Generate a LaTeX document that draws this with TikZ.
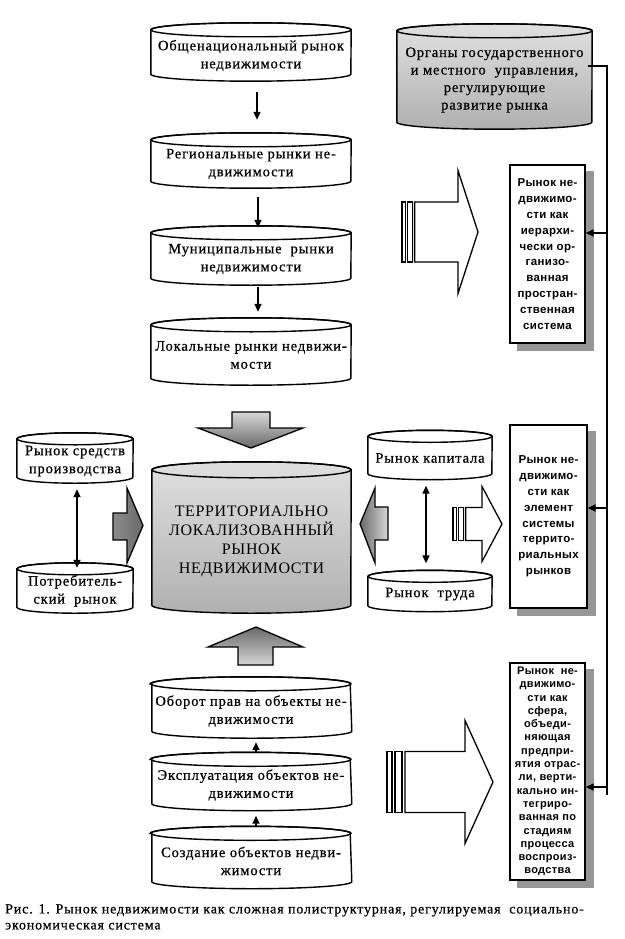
\documentclass[tikz,border=0pt]{standalone}
\usepackage{fontspec}
\setmainfont{Liberation Serif}[LetterSpace=6, FakeBold=0.6]
\newfontfamily\bigfont{Liberation Serif}[LetterSpace=4]
\newfontfamily\boxfont{Liberation Sans}[LetterSpace=3]
\usetikzlibrary{arrows.meta, backgrounds}
\definecolor{cyltop}{RGB}{224, 224, 224}
\definecolor{cylbot}{RGB}{176, 176, 176}
\definecolor{arrdark}{RGB}{105, 105, 105}
\definecolor{arrmid}{RGB}{140, 140, 140}
\definecolor{arrlight}{RGB}{215, 215, 215}
\definecolor{shadowgray}{RGB}{150, 150, 150}
% cylinder round a text node: name, x radius, y radius, fill
\newcommand{\drawcyl}[4]{
    \path[draw, line width=1.4pt, #4] ([yshift=#3pt]#1.north west) -- (#1.south west)
        arc[start angle=180, end angle=360, x radius=#2pt, y radius=#3pt]
        -- ([yshift=#3pt]#1.north east)
        arc[start angle=0, end angle=180, x radius=#2pt, y radius=#3pt] -- cycle;
    \draw[line width=1.4pt] ([yshift=#3pt]#1.north) ellipse[x radius=#2pt, y radius=#3pt];
}
% striped arrow: start x, head base x, tip x, centre y, half shaft, half head, stripe unit
\newcommand{\stripearrow}[7]{
    \draw[line width=1.3pt, fill=white] (#1, #4-#5) rectangle (#1+#7, #4+#5);
    \draw[line width=1.3pt, fill=white] (#1+1.6*#7, #4-#5) rectangle (#1+3*#7, #4+#5);
    \draw[line width=1.3pt, fill=white] (#1+3.6*#7, #4-#5) -- (#2, #4-#5) -- (#2, #4-#6)
        -- (#3, #4) -- (#2, #4+#6) -- (#2, #4+#5) -- (#1+3.6*#7, #4+#5) -- cycle;
}
\begin{document}
\begin{tikzpicture}[x=1pt, y=-1pt]
\tikzset{cylnode/.style={inner sep=0pt, align=center, font=\fontsize{14.5}{18}\selectfont},
    infobox/.style={draw, fill=white, line width=1.4pt, inner sep=0pt, align=center,
        font=\boxfont\bfseries\fontsize{11.5}{15.8}\selectfont},
    conn/.style={line width=1.5pt, -{Triangle[length=8pt, width=7pt]}},
    twoway/.style={line width=1.5pt, {Triangle[length=8pt, width=7pt]}-{Triangle[length=8pt, width=7pt]}},
    bus/.style={line width=1.5pt}}
\useasboundingbox (0, 0) rectangle (624, 939);

% market levels
\node[cylnode, minimum width=200, minimum height=37] (national) at (251, 55.5) {Общенациональный рынок\\недвижимости};
\node[cylnode, minimum width=200, minimum height=34] (regional) at (251, 164) {Региональные рынки не-\\движимости};
\node[cylnode, minimum width=200, minimum height=38] (municipal) at (251, 259) {Муниципальные~\ рынки\\недвижимости};
\node[cylnode, minimum width=200, minimum height=46] (local) at (251, 355) {Локальные рынки недвижи-\\мости};

\node[cylnode, minimum width=195, minimum height=84, font=\fontsize{14.5}{17.5}\selectfont] (gov) at (494.5, 80) {Органы государственного\\и местного~\ управления,\\регулирующие\\развитие рынка};

\node[cylnode, minimum width=199, minimum height=127, font=\bigfont\fontsize{16}{19}\selectfont] (main) at (251.5, 541.5) {ТЕРРИТОРИАЛЬНО\\ЛОКАЛИЗОВАННЫЙ\\РЫНОК\\НЕДВИЖИМОСТИ};

\node[cylnode, minimum width=116, minimum height=32] (means) at (75, 461) {Рынок средств\\производства};
\node[cylnode, minimum width=116, minimum height=32] (consumer) at (75, 591) {Потребитель-\\ский~\ рынок};
\node[cylnode, minimum width=124, minimum height=31] (capital) at (430, 458) {Рынок капитала};
\node[cylnode, minimum width=124, minimum height=23] (labour) at (430, 594) {Рынок~\ труда};

\node[cylnode, minimum width=198, minimum height=40] (rights) at (251, 711) {Оборот прав на объекты не-\\движимости};
\node[cylnode, minimum width=198, minimum height=37] (operation) at (251, 785) {Эксплуатация объектов не-\\движимости};
\node[cylnode, minimum width=198, minimum height=41] (creation) at (251, 861) {Создание объектов недви-\\жимости};

% right column
\node[infobox, minimum width=75, minimum height=178] (hier) at (547.5, 254) {Рынок не-\\движимо-\\сти как\\иерархи-\\чески ор-\\ганизо-\\ванная\\простран-\\ственная\\система};
\node[infobox, minimum width=77, minimum height=183] (terr) at (548.5, 516.5) {Рынок не-\\движимо-\\сти как\\элемент\\системы\\террито-\\риальных\\рынков};
\node[infobox, minimum width=75, minimum height=217, font=\boxfont\bfseries\fontsize{11}{13.3}\selectfont] (sphere) at (547.5, 771.5) {Рынок~\ не-\\движимо-\\сти как\\сфера,\\объеди-\\няющая\\предпри-\\ятия отрас-\\ли, верти-\\кально ин-\\тегриро-\\ванная по\\стадиям\\процесса\\воспроиз-\\водства};

\begin{scope}[on background layer]
    \foreach \n in {national, regional, municipal, local, rights, operation, creation} {
        \drawcyl{\n}{100}{7}{fill=white}
    }
    \drawcyl{means}{58}{6}{fill=white}
    \drawcyl{consumer}{58}{6}{fill=white}
    \drawcyl{capital}{62}{6}{fill=white}
    \drawcyl{labour}{62}{6}{fill=white}
    \drawcyl{gov}{97.5}{7}{top color=cyltop, bottom color=cylbot}
    \drawcyl{main}{99.5}{8}{top color=cyltop, bottom color=cylbot}
    \foreach \n in {hier, terr, sphere} {
        \fill[shadowgray] ([shift={(8pt,-7pt)}]\n.north west) rectangle ([shift={(8pt,-7pt)}]\n.south east);
    }
\end{scope}

\draw[conn] ([xshift=6pt, yshift=-18pt]national.south) -- ([xshift=6pt, yshift=27pt]regional.north);
\draw[conn] ([xshift=7pt, yshift=-16pt]regional.south) -- ([xshift=7pt, yshift=12pt]municipal.north);
\draw[conn] ([xshift=7pt, yshift=-9pt]municipal.south) -- ([xshift=7pt, yshift=20pt]local.north);
\draw[conn] ([xshift=5pt, yshift=14pt]creation.north) -- ([xshift=5pt, yshift=-12pt]operation.south);
\draw[conn] ([xshift=5pt, yshift=14pt]operation.north) -- ([xshift=5pt, yshift=-11pt]rights.south);
\draw[twoway] ([xshift=2pt, yshift=-12pt]means.south) -- ([xshift=2pt, yshift=7pt]consumer.north);
\draw[twoway] ([xshift=-4pt, yshift=-12pt]capital.south) -- ([xshift=-4pt, yshift=19pt]labour.north);

% block arrows
\draw[line width=1.3pt, top color=arrlight, bottom color=arrdark] (232, 412) -- (270, 412) -- (270, 428) -- (303, 428)
    -- (251, 448) -- (198, 428) -- (232, 428) -- cycle;
\draw[line width=1.3pt, top color=arrdark, bottom color=arrlight] (238, 665) -- (273, 665) -- (273, 647) -- (303, 647)
    -- (256, 627) -- (208, 647) -- (238, 647) -- cycle;
\draw[line width=1.3pt, left color=arrmid, right color=arrdark] (113, 513) -- (127, 513) -- (127, 488) -- (143, 525.5)
    -- (127, 563) -- (127, 540) -- (113, 540) -- cycle;
\draw[line width=1.3pt, left color=arrdark, right color=arrlight] (388, 507) -- (375, 507) -- (375, 488) -- (360, 524)
    -- (375, 563) -- (375, 540) -- (388, 540) -- cycle;
\stripearrow{402}{458}{478}{232}{30}{61.5}{3.5}
\stripearrow{453}{482}{502}{524}{16.5}{37.5}{3.5}
\stripearrow{387}{465}{493}{782}{30.5}{61.5}{5}

% regulation line
\coordinate (govout) at (588, 66);
\coordinate (bustop) at (607, 66);
\coordinate (busend) at (607, 795);
\coordinate (tap1) at (607, 233);
\coordinate (tap2) at (607, 508);
\coordinate (tap3) at (607, 787);
\draw[bus] (govout) -- (bustop) -- (busend);
\draw[conn] (tap1) -- (tap1 -| hier.east);
\draw[conn] (tap2) -- (tap2 -| terr.east);
\draw[conn] (tap3) -- (tap3 -| sphere.east);

\node[anchor=north west, align=left, inner sep=0pt, font=\fontsize{14}{16}\selectfont] (caption) at (5, 904) {Рис. 1. Рынок недвижимости как сложная полиструктурная, регулируемая~\ социально-\\экономическая система};
\end{tikzpicture}
\end{document}
